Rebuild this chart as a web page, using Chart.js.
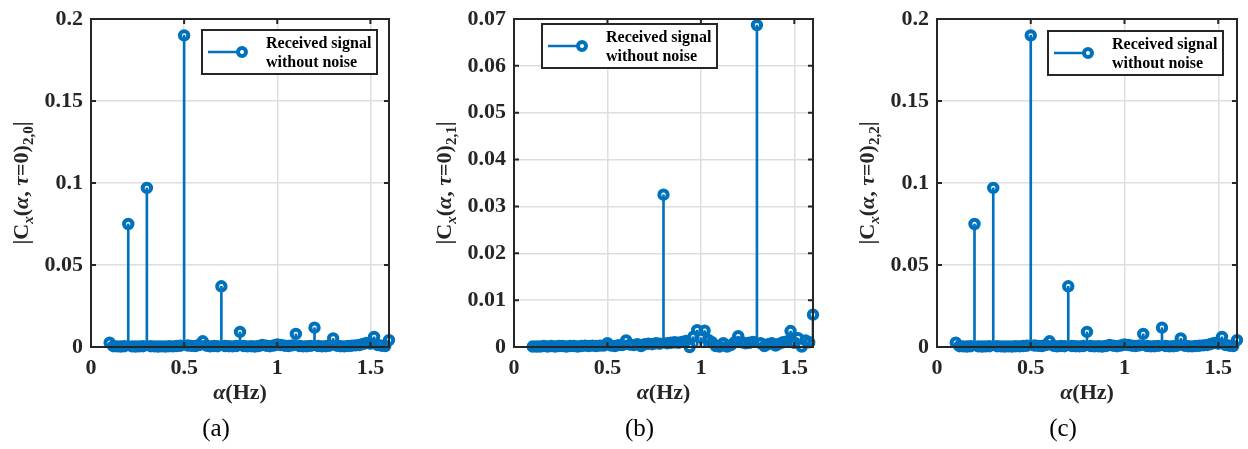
<!DOCTYPE html>
<html>
<head>
<meta charset="utf-8">
<script src="https://cdn.jsdelivr.net/npm/chart.js@4.4.1/dist/chart.umd.min.js"></script>
<style>
  html, body { margin: 0; padding: 0; background: #fff; }
  #wrap { position: relative; width: 1248px; height: 449px; }
  .panel { position: absolute; top: 0; width: 416px; height: 449px; }
</style>
</head>
<body>
<div id="wrap">
  <div class="panel" style="left:0px"><canvas id="chart-0" width="416" height="449"></canvas></div>
  <div class="panel" style="left:416px"><canvas id="chart-1" width="416" height="449"></canvas></div>
  <div class="panel" style="left:832px"><canvas id="chart-2" width="416" height="449"></canvas></div>
</div>
<script>
// cyclic frequency axis (Hz)
const alpha = [0.10,0.12,0.14,0.16,0.18,0.20,0.22,0.24,0.26,0.28,
  0.30,0.32,0.34,0.36,0.38,0.40,0.42,0.44,0.46,0.48,
  0.50,0.52,0.54,0.56,0.58,0.60,0.62,0.64,0.66,0.68,
  0.70,0.72,0.74,0.76,0.78,0.80,0.82,0.84,0.86,0.88,
  0.90,0.92,0.94,0.96,0.98,1.00,1.02,1.04,1.06,1.08,
  1.10,1.12,1.14,1.16,1.18,1.20,1.22,1.24,1.26,1.28,
  1.30,1.32,1.34,1.36,1.38,1.40,1.42,1.44,1.46,1.48,
  1.50,1.52,1.54,1.56,1.58,1.60]

// |Cx(alpha, tau=0)|_{2,0}
const c20 = [0.0026,0.0005,0.0004,0.0003,0.0005,0.0750,0.0004,0.0003,0.0004,0.0005,
  0.0970,0.0005,0.0004,0.0003,0.0004,0.0003,0.0005,0.0004,0.0006,0.0008,
  0.1900,0.0009,0.0007,0.0006,0.0012,0.0035,0.0008,0.0004,0.0006,0.0005,
  0.0370,0.0006,0.0005,0.0004,0.0006,0.0092,0.0006,0.0004,0.0005,0.0003,
  0.0006,0.0012,0.0008,0.0005,0.0009,0.0015,0.0012,0.0008,0.0006,0.0010,
  0.0080,0.0006,0.0004,0.0005,0.0007,0.0118,0.0006,0.0004,0.0005,0.0008,
  0.0052,0.0008,0.0005,0.0004,0.0006,0.0008,0.0010,0.0012,0.0018,0.0025,
  0.0020,0.0062,0.0012,0.0008,0.0006,0.0042]

// |Cx(alpha, tau=0)|_{2,1}
const c21 = [0.0001,0.0001,0.0001,0.0002,0.0001,0.0002,0.0001,0.0002,0.0002,0.0001,
  0.0002,0.0002,0.0001,0.0002,0.0003,0.0002,0.0003,0.0002,0.0003,0.0003,
  0.0008,0.0003,0.0002,0.0004,0.0004,0.0014,0.0005,0.0004,0.0006,0.0002,
  0.0006,0.0007,0.0006,0.0008,0.0007,0.0325,0.0008,0.0009,0.0010,0.0009,
  0.0011,0.0013,0.0000,0.0022,0.0036,0.0020,0.0035,0.0015,0.0010,0.0002,
  0.0001,0.0008,0.0001,0.0004,0.0010,0.0023,0.0010,0.0008,0.0009,0.0011,
  0.0687,0.0008,0.0002,0.0006,0.0008,0.0003,0.0007,0.0010,0.0012,0.0034,
  0.0009,0.0019,0.0001,0.0014,0.0010,0.0069]

// |Cx(alpha, tau=0)|_{2,2}
const c22 = [0.0026,0.0005,0.0004,0.0003,0.0005,0.0750,0.0004,0.0003,0.0004,0.0005,
  0.0970,0.0005,0.0004,0.0003,0.0004,0.0003,0.0005,0.0004,0.0006,0.0008,
  0.1900,0.0009,0.0007,0.0006,0.0012,0.0035,0.0008,0.0004,0.0006,0.0005,
  0.0370,0.0006,0.0005,0.0004,0.0006,0.0092,0.0006,0.0004,0.0005,0.0003,
  0.0006,0.0012,0.0008,0.0005,0.0009,0.0015,0.0012,0.0008,0.0006,0.0010,
  0.0080,0.0006,0.0004,0.0005,0.0007,0.0118,0.0006,0.0004,0.0005,0.0008,
  0.0052,0.0008,0.0005,0.0004,0.0006,0.0008,0.0010,0.0012,0.0018,0.0025,
  0.0020,0.0062,0.0012,0.0008,0.0006,0.0042]

const seriesLabel = ['Received signal', 'without noise']
const xTicks = [0, 0.5, 1, 1.5]
const captions = ['(a)', '(b)', '(c)']
const subscripts = ['2,0', '2,1', '2,2']

const BLUE = '#0072BD'
const INK = '#262626'
const SERIF = '"Liberation Serif", "Times New Roman", serif'

// per panel layout (canvas-relative)
const panels = [
  { values: c20, yMax: 0.2, yStep: 0.05, left: 91, right: 27, top: 15, legend: [202, 30] },
  { values: c21, yMax: 0.07, yStep: 0.01, left: 98, right: 19, top: 11, legend: [126, 24] },
  { values: c22, yMax: 0.2, yStep: 0.05, left: 105, right: 11, top: 15, legend: [216, 31] }
]

const fmt = v => String(+v.toFixed(4))

// draws a row of text pieces with mixed fonts / baseline shifts
function drawPieces(ctx, pieces, x, y, align) {
  let total = 0
  pieces.forEach(p => { ctx.font = p.font; p.w = ctx.measureText(p.text).width; total += p.w })
  let cx = align === 'center' ? x - total / 2 : x
  pieces.forEach(p => {
    ctx.font = p.font
    ctx.fillText(p.text, cx, y + (p.dy || 0))
    cx += p.w
  })
}

const decor = {
  id: 'decor',
  afterDatasetsDraw(chart, args, opts) {
    const ctx = chart.ctx
    const a = chart.chartArea
    const xs = chart.scales.x
    const ys = chart.scales.y
    ctx.save()
    // axes box + inward ticks
    ctx.strokeStyle = INK
    ctx.lineWidth = 2
    ctx.strokeRect(a.left, a.top, a.right - a.left, a.bottom - a.top)
    ctx.beginPath()
    xs.ticks.forEach(t => {
      const px = xs.getPixelForValue(t.value)
      ctx.moveTo(px, a.bottom); ctx.lineTo(px, a.bottom - 5)
      ctx.moveTo(px, a.top); ctx.lineTo(px, a.top + 5)
    })
    ys.ticks.forEach(t => {
      const py = ys.getPixelForValue(t.value)
      ctx.moveTo(a.left, py); ctx.lineTo(a.left + 5, py)
      ctx.moveTo(a.right, py); ctx.lineTo(a.right - 5, py)
    })
    ctx.stroke()

    // legend
    const [bx, by] = opts.legend
    const bw = 175, bh = 44
    ctx.fillStyle = '#fff'
    ctx.fillRect(bx, by, bw, bh)
    ctx.strokeRect(bx, by, bw, bh)
    ctx.strokeStyle = BLUE
    ctx.lineWidth = 2.5
    ctx.beginPath()
    ctx.moveTo(bx + 6, by + 22); ctx.lineTo(bx + 36, by + 22)
    ctx.stroke()
    ctx.lineWidth = 4
    ctx.beginPath()
    ctx.arc(bx + 40, by + 22, 4, 0, Math.PI * 2)
    ctx.stroke()
    ctx.fillStyle = '#000'
    ctx.textBaseline = 'alphabetic'
    ctx.font = 'bold 16px ' + SERIF
    ctx.textAlign = 'left'
    ctx.fillText(seriesLabel[0], bx + 64, by + 18)
    ctx.fillText(seriesLabel[1], bx + 64, by + 37)

    // x title
    const midX = (a.left + a.right) / 2
    ctx.fillStyle = INK
    drawPieces(ctx, [
      { text: 'α', font: 'italic bold 22px ' + SERIF },
      { text: '(Hz)', font: 'bold 22px ' + SERIF }
    ], midX, 399, 'center')

    // caption
    ctx.fillStyle = '#000'
    drawPieces(ctx, [{ text: opts.caption, font: '25px ' + SERIF }], midX - 24, 436, 'center')

    // y title, rotated
    ctx.fillStyle = INK
    ctx.translate(a.left - 63, (a.top + a.bottom) / 2)
    ctx.rotate(-Math.PI / 2)
    const big = 'bold 22px ' + SERIF
    const bigIt = 'italic bold 22px ' + SERIF
    const small = 'bold 15px ' + SERIF
    const smallIt = 'italic bold 15px ' + SERIF
    drawPieces(ctx, [
      { text: '|C', font: big },
      { text: 'x', font: smallIt, dy: 5 },
      { text: '(', font: big },
      { text: 'α', font: bigIt },
      { text: ', ', font: big },
      { text: 'τ', font: bigIt },
      { text: '=0)', font: big },
      { text: opts.sub, font: small, dy: 5 },
      { text: '|', font: big }
    ], 0, 0, 'center')
    ctx.restore()
  }
}

panels.forEach((p, index) => {
  const pts = alpha.map((x, i) => ({ x: x, y: p.values[i] }))
  const ctx = document.getElementById(`chart-${index}`).getContext('2d')
  new Chart(ctx, {
    type: 'bar',
    data: {
      datasets: [{
        type: 'bar',
        data: pts,
        backgroundColor: BLUE,
        barThickness: 2,
        borderWidth: 0,
        order: 2
      }, {
        type: 'line',
        data: pts,
        showLine: false,
        borderColor: BLUE,
        backgroundColor: 'rgba(0,0,0,0)',
        pointRadius: 4.2,
        pointBorderWidth: 4,
        pointBackgroundColor: 'rgba(0,0,0,0)',
        pointBorderColor: BLUE,
        clip: false,
        order: 1
      }]
    },
    options: {
      responsive: false,
      animation: false,
      events: [],
      layout: { padding: { left: 0, right: p.right, top: p.top, bottom: 0 } },
      plugins: {
        legend: { display: false },
        tooltip: { enabled: false },
        decor: { legend: p.legend, caption: captions[index], sub: subscripts[index] }
      },
      scales: {
        x: {
          type: 'linear',
          min: 0,
          max: 1.6,
          offset: false,
          afterFit: s => { s.height = 102 },
          afterBuildTicks: s => { s.ticks = xTicks.map(v => ({ value: v })) },
          grid: { color: '#dedede', lineWidth: 1.5, drawTicks: false, offset: false },
          border: { display: false },
          ticks: {
            padding: 10,
            color: INK,
            font: { family: SERIF, weight: 'bold', size: 22, lineHeight: 1 },
            callback: v => fmt(v)
          }
        },
        y: {
          min: 0,
          max: p.yMax,
          afterFit: s => { s.width = p.left },
          grid: { color: '#dedede', lineWidth: 1.5, drawTicks: false },
          border: { display: false },
          ticks: {
            stepSize: p.yStep,
            includeBounds: false,
            padding: 8,
            color: INK,
            font: { family: SERIF, weight: 'bold', size: 22, lineHeight: 1 },
            callback: v => fmt(v)
          }
        }
      }
    },
    plugins: [decor]
  })
})
</script>
</body>
</html>
